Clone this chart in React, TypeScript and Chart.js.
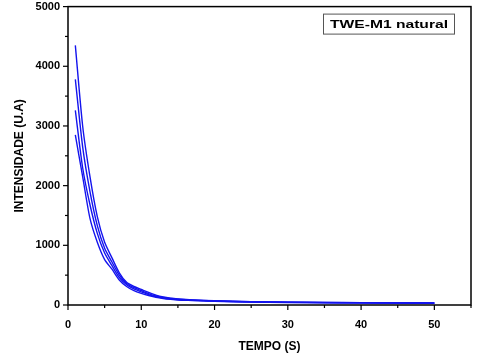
import React, { useEffect, useRef } from "react";
import { Chart, registerables } from "chart.js";

Chart.register(...registerables);

const times = [1, 2, 3, 4, 5, 6, 7, 8, 9, 10, 11, 12, 13, 14, 15, 17, 20, 25, 30, 35, 40, 45, 50];
const seriesA = [4350, 3000, 2150, 1480, 1050, 790, 540, 380, 310, 260, 210, 165, 134, 115, 103, 86, 70, 55, 48, 44, 40, 38, 35];
const seriesB = [3780, 2650, 1900, 1330, 950, 720, 500, 360, 290, 240, 190, 150, 125, 108, 97, 82, 68, 54, 46, 42, 38, 36, 33];
const seriesC = [3260, 2300, 1680, 1200, 870, 660, 460, 340, 270, 220, 175, 140, 118, 103, 92, 80, 65, 52, 44, 40, 36, 34, 31];
const seriesD = [2850, 2150, 1450, 1050, 760, 600, 420, 310, 240, 195, 160, 130, 110, 96, 85, 76, 62, 50, 42, 38, 35, 32, 28];
const xTicks = [0, 10, 20, 30, 40, 50];
const yTicks = [0, 1000, 2000, 3000, 4000, 5000];
const legendLabel = "TWE-M1 natural";
const xTitle = "TEMPO (S)";
const yTitle = "INTENSIDADE (U.A)";

const FONT = "'Liberation Sans', Arial, sans-serif";

const framePlugin = {
  id: "frame",
  afterDraw(chart: any) {
    const { ctx, chartArea: a, scales } = chart;
    const xs = scales.x;
    const ys = scales.y;
    ctx.save();
    ctx.strokeStyle = "#000";
    ctx.lineWidth = 1.5;
    ctx.strokeRect(a.left, a.top, a.right - a.left, a.bottom - a.top);
    ctx.lineWidth = 1.2;
    for (let v = 0; v <= 55; v += 5) {
      const px = xs.getPixelForValue(v);
      const len = v % 10 === 0 ? 5 : 3;
      ctx.beginPath();
      ctx.moveTo(px, a.bottom);
      ctx.lineTo(px, a.bottom + len);
      ctx.stroke();
    }
    for (let v = 0; v <= 5000; v += 500) {
      const py = ys.getPixelForValue(v);
      const len = v % 1000 === 0 ? 5 : 3;
      ctx.beginPath();
      ctx.moveTo(a.left, py);
      ctx.lineTo(a.left - len, py);
      ctx.stroke();
    }
    // legend box
    const bx = a.right - 148;
    const by = a.top + 7;
    const bw = 131;
    const bh = 20;
    ctx.fillStyle = "#fff";
    ctx.fillRect(bx, by, bw, bh);
    ctx.lineWidth = 1;
    ctx.strokeStyle = "#555";
    ctx.strokeRect(bx + 0.5, by + 0.5, bw, bh);
    ctx.font = `bold 11.5px ${FONT}`;
    const tw = ctx.measureText(legendLabel).width;
    const target = 118;
    ctx.fillStyle = "#000";
    ctx.textBaseline = "middle";
    ctx.translate(bx + 7, by + bh / 2 + 1);
    ctx.scale(target / tw, 1);
    ctx.fillText(legendLabel, 0, 0);
    ctx.restore();
  },
};

export default function App() {
  const ref = useRef<HTMLCanvasElement>(null);
  useEffect(() => {
    document.body.style.margin = "0";
    const mk = (vals: number[]) => times.map((t, i) => ({ x: t, y: vals[i] }));
    const ds = [seriesA, seriesB, seriesC, seriesD].map((s, i) => ({
      label: "s" + i,
      data: mk(s),
      borderColor: "#1414ee",
      borderWidth: 1.4,
      pointRadius: 0,
      tension: 0.25,
      fill: false,
    }));
    const chart = new Chart(ref.current!, {
      type: "line",
      data: { datasets: ds },
      options: {
        animation: false,
        responsive: false,
        layout: { padding: { top: 6, right: 8, left: 0, bottom: 0 } },
        plugins: { legend: { display: false }, tooltip: { enabled: false } },
        scales: {
          x: {
            type: "linear",
            min: 0,
            max: 55,
            border: { display: false },
            grid: { display: false },
            afterBuildTicks: (s: any) => {
              s.ticks = xTicks.map((v) => ({ value: v }));
            },
            afterFit: (s: any) => {
              s.height = 51;
            },
            ticks: {
              padding: 5,
              color: "#000",
              font: { family: FONT, size: 11, weight: "bold" },
              maxRotation: 0,
              callback: (v: any) => String(v),
            },
            title: {
              display: true,
              text: xTitle,
              color: "#000",
              font: { family: FONT, size: 12, weight: "bold" },
              padding: { top: 0, bottom: 2 },
            },
          },
          y: {
            type: "linear",
            min: 0,
            max: 5000,
            border: { display: false },
            grid: { display: false },
            afterBuildTicks: (s: any) => {
              s.ticks = yTicks.map((v) => ({ value: v }));
            },
            afterFit: (s: any) => {
              s.width = 68;
            },
            ticks: {
              padding: 0,
              color: "#000",
              font: { family: FONT, size: 11, weight: "bold" },
              callback: (v: any) => String(v),
            },
            title: {
              display: true,
              text: yTitle,
              color: "#000",
              font: { family: FONT, size: 12, weight: "bold" },
              padding: { top: 12, bottom: 12 },
            },
          },
        },
      },
      plugins: [framePlugin],
    });
    return () => chart.destroy();
  }, []);
  return (
    <div style={{ width: 479, height: 356, background: "#fff" }}>
      <canvas ref={ref} width={479} height={356} style={{ display: "block" }} />
    </div>
  );
}
